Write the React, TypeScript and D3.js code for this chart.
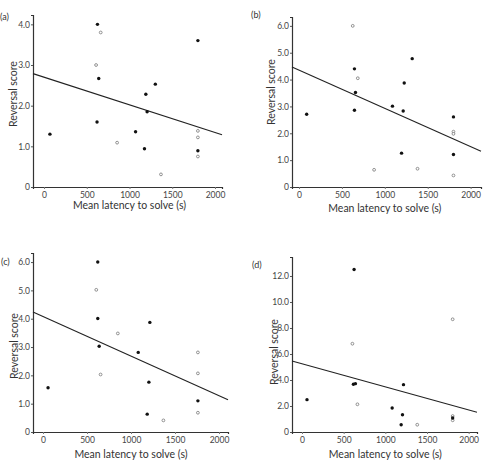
import React, { useEffect, useRef } from 'react';
import * as d3 from 'd3';

// [latency (s), reversal score]
const aFilled = [[625, 4.0], [1800, 3.6], [640, 2.67], [1302, 2.53], [1191, 2.28], [1206, 1.85], [620, 1.6], [69, 1.3], [1071, 1.36], [1175, 0.94], [1800, 0.89]];
const aOpen = [[663, 3.8], [609, 3.0], [855, 1.09], [1800, 1.38], [1800, 1.22], [1800, 0.75], [1368, 0.31]];
const bFilled = [[646, 4.4], [1319, 4.78], [1226, 3.87], [658, 3.52], [1089, 3.01], [1214, 2.83], [646, 2.86], [89, 2.71], [1800, 2.61], [1195, 1.26], [1800, 1.21]];
const bOpen = [[626, 6.0], [685, 4.05], [1800, 2.06], [1800, 1.98], [875, 0.64], [1381, 0.68], [1800, 0.43]];
const cFilled = [[622, 6.0], [622, 4.01], [1214, 3.87], [638, 3.03], [1082, 2.81], [1203, 1.76], [57, 1.56], [1760, 1.1], [1184, 0.63]];
const cOpen = [[605, 5.02], [850, 3.48], [654, 2.03], [1760, 2.81], [1760, 2.07], [1760, 0.68], [1368, 0.41]];
const dFilled = [[625, 12.5], [617, 3.67], [641, 3.72], [1218, 3.64], [60, 2.49], [1082, 1.85], [1206, 1.33], [1190, 0.56], [1808, 1.08]];
const dOpen = [[605, 6.79], [1808, 8.67], [665, 2.13], [1808, 1.23], [1808, 0.9], [1383, 0.56]];

// fitted line: score at 0 s and at 2000 s
const aFit = [2.7, 1.34];
const bFit = [4.35, 1.5];
const cFit = [4.08, 1.28];
const dFit = [5.25, 1.7];

const xTicks = [0, 500, 1000, 1500, 2000];
const aYTicks = [0, 1, 2, 3, 4];
const bYTicks = [0, 1, 2, 3, 4, 5, 6];
const cYTicks = [0, 1, 2, 3, 4, 5, 6];
const dYTicks = [0, 2, 4, 6, 8, 10, 12];

const panels = [
    { tag: '(a)', filled: aFilled, open: aOpen, fit: aFit, yTicks: aYTicks,
      left: 33, right: 222, top: 15, bottom: 187, xDom: [-129, 2082], yMax: 4.23,
      tagX: 0, tagY: 20, ylabX: 13, ylabY: 94, xlabY: 209 },
    { tag: '(b)', filled: bFilled, open: bOpen, fit: bFit, yTicks: bYTicks,
      left: 292, right: 481, top: 17, bottom: 187, xDom: [-82, 2121], yMax: 6.33,
      tagX: 251, tagY: 18, ylabX: 271, ylabY: 92, xlabY: 212 },
    { tag: '(c)', filled: cFilled, open: cOpen, fit: cFit, yTicks: cYTicks,
      left: 33, right: 228, top: 253, bottom: 432, xDom: [-114, 2102], yMax: 6.32,
      tagX: 1, tagY: 265, ylabX: 14, ylabY: 346, xlabY: 458 },
    { tag: '(d)', filled: dFilled, open: dOpen, fit: dFit, yTicks: dYTicks,
      left: 292, right: 477, top: 257, bottom: 432, xDom: [-120, 2100], yMax: 13.46,
      tagX: 252, tagY: 268, ylabX: 274, ylabY: 352, xlabY: 458 },
];

const font = 'Lato, "Open Sans", sans-serif';

export default function App() {
    const ref = useRef<SVGSVGElement>(null);

    useEffect(() => {
        const svg = d3.select(ref.current);
        svg.selectAll('*').remove();

        panels.forEach(p => {
            const x = d3.scaleLinear().domain(p.xDom).range([p.left, p.right]);
            const y = d3.scaleLinear().domain([0, p.yMax]).range([p.bottom, p.top]);
            const g = svg.append('g');

            // y axis
            const yAxis = g.append('g')
                .attr('transform', `translate(${p.left},0)`)
                .call(d3.axisLeft(y).tickValues(p.yTicks).tickSize(2).tickPadding(1)
                    .tickFormat(d => (+d === 0 ? '0' : (+d).toFixed(1))));
            yAxis.select('.domain').attr('stroke', '#333').attr('stroke-width', 1.2);
            yAxis.selectAll('.tick line').attr('stroke', '#555');
            yAxis.selectAll('.tick text').attr('font-family', font).attr('font-size', 8.5).attr('fill', '#444');

            // x axis
            const xAxis = g.append('g')
                .attr('transform', `translate(0,${p.bottom})`)
                .call(d3.axisBottom(x).tickValues(xTicks).tickSize(2).tickPadding(3)
                    .tickFormat(d3.format('d')));
            xAxis.select('.domain').attr('stroke', '#333').attr('stroke-width', 1.2);
            xAxis.selectAll('.tick line').attr('stroke', '#777');
            xAxis.selectAll('.tick text').attr('font-family', font).attr('font-size', 8.5).attr('fill', '#444');

            // fitted line
            const slope = (p.fit[1] - p.fit[0]) / 2000;
            const fitPts = p.xDom.map(v => [v, p.fit[0] + slope * v]);
            g.append('path')
                .attr('d', d3.line().x(d => x(d[0])).y(d => y(d[1]))(fitPts as [number, number][]))
                .attr('stroke', '#222')
                .attr('stroke-width', 1.1)
                .attr('fill', 'none');

            g.selectAll('.open')
                .data(p.open)
                .enter()
                .append('circle')
                .attr('cx', d => x(d[0]))
                .attr('cy', d => y(d[1]))
                .attr('r', 1.4)
                .attr('fill', 'white')
                .attr('stroke', '#777')
                .attr('stroke-width', 0.8);

            g.selectAll('.filled')
                .data(p.filled)
                .enter()
                .append('circle')
                .attr('cx', d => x(d[0]))
                .attr('cy', d => y(d[1]))
                .attr('r', 1.7)
                .attr('fill', '#111');

            g.append('text')
                .attr('x', (x(0) + x(2000)) / 2)
                .attr('y', p.xlabY)
                .attr('text-anchor', 'middle')
                .attr('font-family', font)
                .attr('font-size', 10.5)
                .attr('fill', '#333')
                .text('Mean latency to solve (s)');

            g.append('text')
                .attr('transform', `translate(${p.ylabX},${p.ylabY}) rotate(-90)`)
                .attr('text-anchor', 'middle')
                .attr('dy', '0.35em')
                .attr('font-family', font)
                .attr('font-size', 10.5)
                .attr('fill', '#333')
                .text('Reversal score');

            g.append('text')
                .attr('x', p.tagX)
                .attr('y', p.tagY)
                .attr('font-family', font)
                .attr('font-size', 9)
                .attr('fill', '#333')
                .text(p.tag);
        });
    }, []);

    return (
        <svg ref={ref} width={488} height={469}
            style={{ position: 'absolute', left: 0, top: 0, background: 'white' }} />
    );
}
